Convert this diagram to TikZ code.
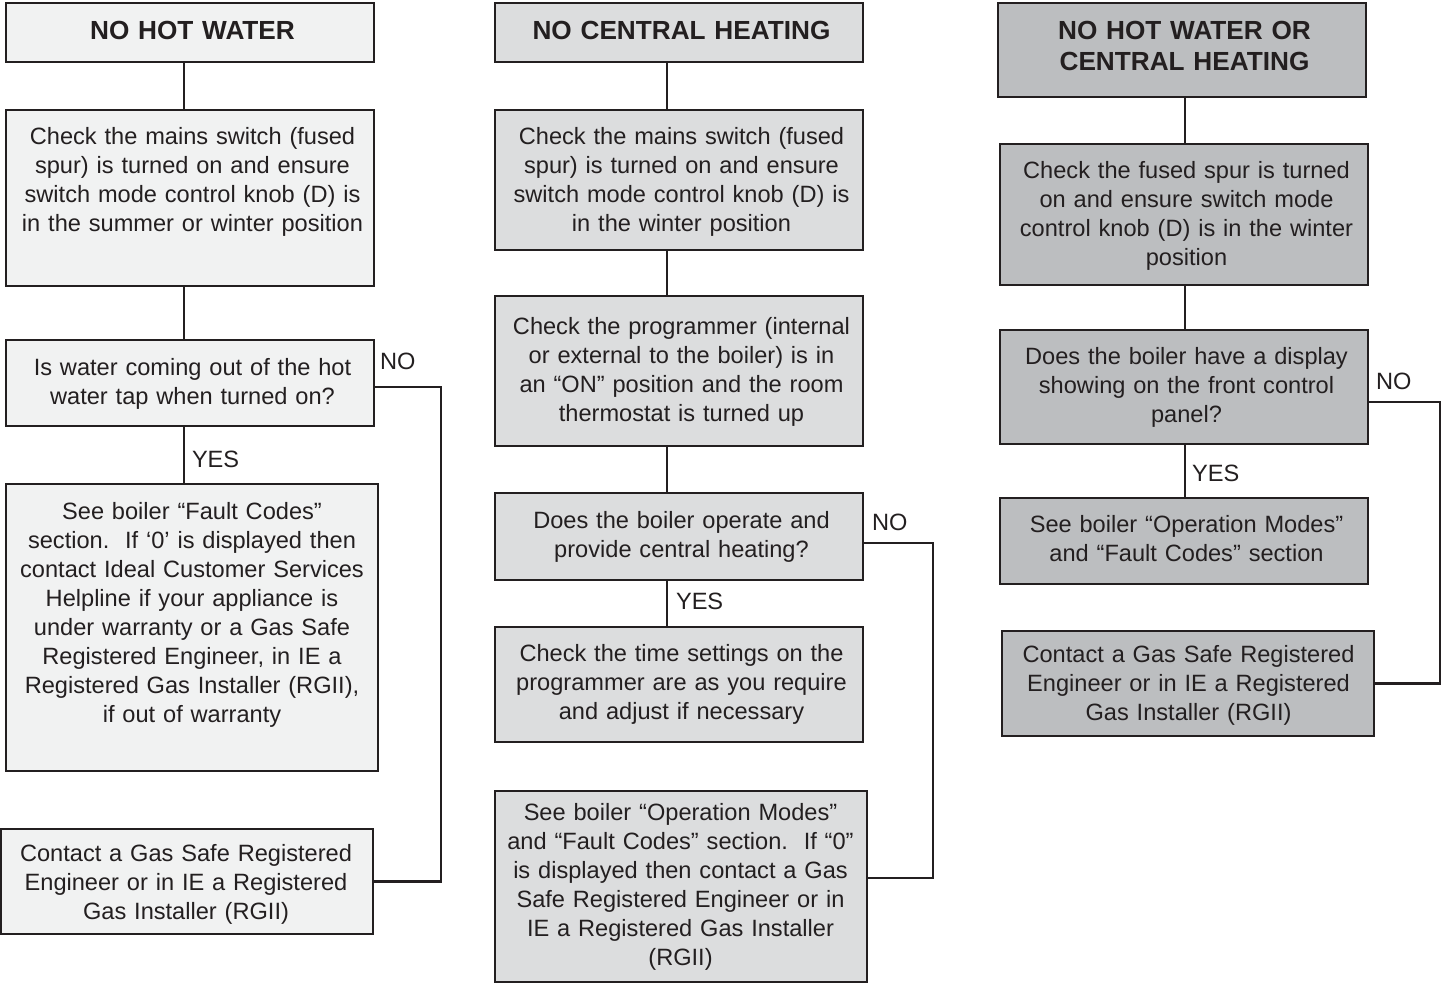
\documentclass[tikz,border=0pt]{standalone}
\usepackage{fontspec}
\setmainfont{Liberation Sans}
\definecolor{ink}{HTML}{231F20}
\definecolor{fillA}{HTML}{F1F2F2}
\definecolor{fillB}{HTML}{DCDDDE}
\definecolor{fillC}{HTML}{BCBEC0}
\begin{document}
\begin{tikzpicture}[x=1pt,y=-1pt,
  cbox/.style={draw=ink,line width=2.8pt,rectangle,inner sep=0pt,outer sep=0pt,anchor=north west},
  colA/.style={cbox,fill=fillA},
  colB/.style={cbox,fill=fillB},
  colC/.style={cbox,fill=fillC},
  txt/.style={text=ink,inner sep=0pt,outer sep=0pt,anchor=north,text width=420pt,align=center,font=\fontsize{23.6}{29}\selectfont},
  ttl/.style={text=ink,inner sep=0pt,outer sep=0pt,anchor=north,text width=420pt,align=center,font=\fontsize{26.2}{31}\selectfont\bfseries},
  lbl/.style={text=ink,inner sep=0pt,outer sep=0pt,anchor=base west,font=\fontsize{23.6}{29}\selectfont},
  conn/.style={draw=ink,line width=2.8pt}]
\useasboundingbox (0,0) rectangle (1442,990);

% ---------- left column ----------
\node[colA,minimum width=368pt,minimum height=59pt] (L0) at (6,3) {};
\node[colA,minimum width=368pt,minimum height=176pt] (L1) at (6,110) {};
\node[colA,minimum width=368pt,minimum height=86pt] (L2) at (6,340) {};
\node[colA,minimum width=372pt,minimum height=287pt] (L3) at (6,484) {};
\node[colA,minimum width=372pt,minimum height=105pt] (L4) at (1,829) {};

\node[ttl] (L0t) at (192.5,18.3) {\strut NO HOT WATER};
\node[txt] (L1t) at (192.5,123.7) {\strut Check the mains switch (fused\\spur) is turned on and ensure\\switch mode control knob (D) is\\in the summer or winter position};
\node[txt] (L2t) at (192.5,354.7) {\strut Is water coming out of the hot\\water tap when turned on?};
\node[txt] (L3t) at (192,498.7) {\strut See boiler “Fault Codes”\\section.\ \ If ‘0’ is displayed then\\contact Ideal Customer Services\\Helpline if your appliance is\\under warranty or a Gas Safe\\Registered Engineer, in IE a\\Registered Gas Installer (RGII),\\if out of warranty};
\node[txt] (L4t) at (186,840.7) {\strut Contact a Gas Safe Registered\\Engineer or in IE a Registered\\Gas Installer (RGII)};

\coordinate (Lx) at (184,0);
\coordinate (Lno) at (441,387);
\draw[conn] (L0.south -| Lx) -- (L1.north -| Lx);
\draw[conn] (L1.south -| Lx) -- (L2.north -| Lx);
\draw[conn] (L2.south -| Lx) -- (L3.north -| Lx);
\draw[conn] (L2.east |- Lno) -- (Lno) |- (L4.east);
\node[lbl] (Lyes) at (192,467) {YES};
\node[lbl] (Lnol) at (380,369) {NO};

% ---------- middle column ----------
\node[colB,minimum width=368pt,minimum height=59pt] (M0) at (495,3) {};
\node[colB,minimum width=368pt,minimum height=140pt] (M1) at (495,110) {};
\node[colB,minimum width=368pt,minimum height=150pt] (M2) at (495,296) {};
\node[colB,minimum width=368pt,minimum height=87pt] (M3) at (495,493) {};
\node[colB,minimum width=368pt,minimum height=115pt] (M4) at (495,627) {};
\node[colB,minimum width=372pt,minimum height=191pt] (M5) at (495,791) {};

\node[ttl] (M0t) at (681.5,18.3) {\strut NO CENTRAL HEATING};
\node[txt] (M1t) at (681.5,123.7) {\strut Check the mains switch (fused\\spur) is turned on and ensure\\switch mode control knob (D) is\\in the winter position};
\node[txt] (M2t) at (681.5,313.7) {\strut Check the programmer (internal\\or external to the boiler) is in\\an “ON” position and the room\\thermostat is turned up};
\node[txt] (M3t) at (681.5,507.7) {\strut Does the boiler operate and\\provide central heating?};
\node[txt] (M4t) at (681.5,640.7) {\strut Check the time settings on the\\programmer are as you require\\and adjust if necessary};
\node[txt] (M5t) at (680.5,799.7) {\strut See boiler “Operation Modes”\\and “Fault Codes” section.\ \ If “0”\\is displayed then contact a Gas\\Safe Registered Engineer or in\\IE a Registered Gas Installer\\(RGII)};

\coordinate (Mx) at (667,0);
\coordinate (Mno1) at (933,543);
\coordinate (Mno2) at (933,878);
\draw[conn] (M0.south -| Mx) -- (M1.north -| Mx);
\draw[conn] (M1.south -| Mx) -- (M2.north -| Mx);
\draw[conn] (M2.south -| Mx) -- (M3.north -| Mx);
\draw[conn] (M3.south -| Mx) -- (M4.north -| Mx);
\draw[conn] (M3.east |- Mno1) -- (Mno1) -- (Mno2) -- (M5.east |- Mno2);
\node[lbl] (Myes) at (676,609) {YES};
\node[lbl] (Mnol) at (872,530) {NO};

% ---------- right column ----------
\node[colC,minimum width=368pt,minimum height=94pt] (R0) at (998,3) {};
\node[colC,minimum width=368pt,minimum height=141pt] (R1) at (1000,144) {};
\node[colC,minimum width=368pt,minimum height=114pt] (R2) at (1000,330) {};
\node[colC,minimum width=368pt,minimum height=86pt] (R3) at (1000,498) {};
\node[colC,minimum width=372pt,minimum height=105pt] (R4) at (1002,631) {};

\node[ttl] (R0t) at (1184.5,18.3) {\strut NO HOT WATER OR\\CENTRAL HEATING};
\node[txt] (R1t) at (1186.5,157.7) {\strut Check the fused spur is turned\\on and ensure switch mode\\control knob (D) is in the winter\\position};
\node[txt] (R2t) at (1186.5,343.7) {\strut Does the boiler have a display\\showing on the front control\\panel?};
\node[txt] (R3t) at (1186.5,511.7) {\strut See boiler “Operation Modes”\\and “Fault Codes” section};
\node[txt] (R4t) at (1188.5,641.7) {\strut Contact a Gas Safe Registered\\Engineer or in IE a Registered\\Gas Installer (RGII)};

\coordinate (Rx) at (1185,0);
\coordinate (Rno) at (1440,402);
\draw[conn] (R0.south -| Rx) -- (R1.north -| Rx);
\draw[conn] (R1.south -| Rx) -- (R2.north -| Rx);
\draw[conn] (R2.south -| Rx) -- (R3.north -| Rx);
\draw[conn] (R2.east |- Rno) -- (Rno) |- (R4.east);
\node[lbl] (Ryes) at (1192,481) {YES};
\node[lbl] (Rnol) at (1376,389) {NO};
\end{tikzpicture}
\end{document}
